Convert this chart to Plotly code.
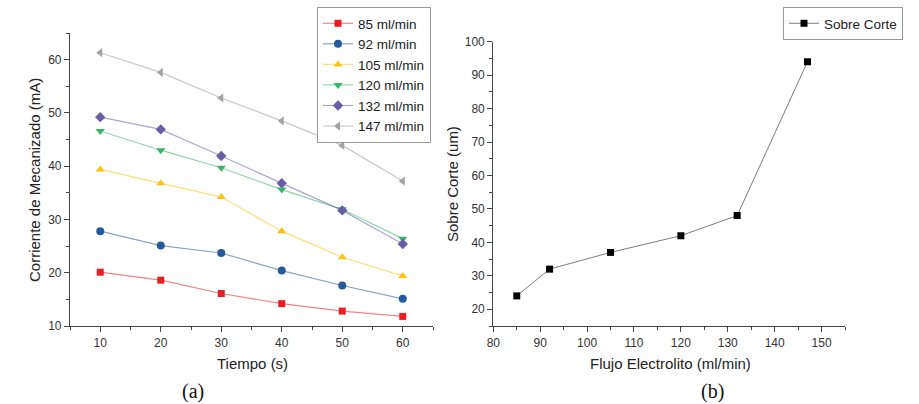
import plotly.graph_objects as go

tiempo = [10, 20, 30, 40, 50, 60]
series_names = ["85 ml/min", "92 ml/min", "105 ml/min", "120 ml/min", "132 ml/min", "147 ml/min"]
s85 = [20.1, 18.6, 16.1, 14.2, 12.8, 11.8]
s92 = [27.8, 25.1, 23.7, 20.4, 17.6, 15.1]
s105 = [39.4, 36.8, 34.2, 27.8, 22.9, 19.4]
s120 = [46.6, 43.0, 39.7, 35.6, 31.9, 26.4]
s132 = [49.2, 46.9, 41.9, 36.8, 31.7, 25.4]
s147 = [61.3, 57.6, 52.8, 48.5, 43.9, 37.2]

flujo = [85, 92, 105, 120, 132, 147]
sobre_corte = [24, 32, 37, 42, 48, 94]

colors = ["#ea1c24", "#245a9c", "#ffc20e", "#39b36a", "#675ea6", "#a3a3a3"]
line_colors = ["rgba(234,28,36,0.55)", "rgba(36,90,156,0.55)", "rgba(255,194,14,0.55)",
               "rgba(57,179,106,0.55)", "rgba(103,94,166,0.55)", "rgba(163,163,163,0.6)"]
symbols = ["square", "circle", "triangle-up", "triangle-down", "diamond", "triangle-left"]
all_series = [s85, s92, s105, s120, s132, s147]

W, H = 919, 404

fig = go.Figure()
for name, ys, c, lc, sym in zip(series_names, all_series, colors, line_colors, symbols):
    fig.add_trace(go.Scatter(
        x=tiempo, y=ys, name=name, mode="lines+markers",
        line=dict(color=lc, width=1.2),
        marker=dict(symbol=sym, color=c, size=8 if sym != "square" else 7),
        xaxis="x", yaxis="y", legend="legend"))

fig.add_trace(go.Scatter(
    x=flujo, y=sobre_corte, name="Sobre Corte", mode="lines+markers",
    line=dict(color="rgba(90,90,90,0.8)", width=1),
    marker=dict(symbol="square", color="black", size=7),
    xaxis="x2", yaxis="y2", legend="legend2"))

axis_common = dict(
    showline=True, linecolor="#444", linewidth=1.2, ticks="outside", ticklen=5,
    tickcolor="#444", tickwidth=1.2, showgrid=False, zeroline=False, automargin=False,
    tickfont=dict(family="Liberation Sans, Arial", size=12, color="#333"),
)

title_font = dict(family="Liberation Sans, Arial", size=15, color="#222")

def px_x(v):
    return v / W

def px_y(v):
    return 1 - v / H

def label(text, x, y, font, angle=0):
    return dict(text=text, x=px_x(x), y=px_y(y), xref="paper", yref="paper",
                xanchor="center", yanchor="middle", showarrow=False,
                textangle=angle, font=font)

serif = dict(family="Liberation Serif, Times New Roman", size=20, color="#111")

fig.update_layout(
    width=W, height=H,
    margin=dict(l=0, r=0, t=0, b=0),
    paper_bgcolor="white", plot_bgcolor="white",
    showlegend=True,
    xaxis=dict(domain=[px_x(70), px_x(433)], range=[5, 65], tickvals=[10, 20, 30, 40, 50, 60],
               minor=dict(ticks="outside", ticklen=3, tickvals=[5, 15, 25, 35, 45, 55, 65], tickcolor="#444"),
               anchor="y", **axis_common),
    yaxis=dict(domain=[px_y(326), px_y(33)], range=[10, 65], tickvals=[10, 20, 30, 40, 50, 60],
               minor=dict(ticks="outside", ticklen=3, tickvals=[15, 25, 35, 45, 55, 65], tickcolor="#444"),
               anchor="x", **axis_common),
    xaxis2=dict(domain=[px_x(493.3), px_x(845)], range=[80, 155], tickvals=[80, 90, 100, 110, 120, 130, 140, 150],
                minor=dict(ticks="outside", ticklen=3, tickvals=[85, 95, 105, 115, 125, 135, 145, 155], tickcolor="#444"),
                anchor="y2", **axis_common),
    yaxis2=dict(domain=[px_y(326), px_y(41.7)], range=[15, 100], tickvals=[20, 30, 40, 50, 60, 70, 80, 90, 100],
                minor=dict(ticks="outside", ticklen=3, tickvals=[15, 25, 35, 45, 55, 65, 75, 85, 95], tickcolor="#444"),
                anchor="x2", **axis_common),
    legend=dict(x=px_x(317), y=px_y(7), xanchor="left", yanchor="top",
                bgcolor="white", bordercolor="#999", borderwidth=1,
                font=dict(family="Liberation Sans, Arial", size=13.5, color="#222"),
                itemwidth=30, tracegroupgap=0),
    legend2=dict(x=px_x(783), y=px_y(7), xanchor="left", yanchor="top",
                 bgcolor="white", bordercolor="#999", borderwidth=1,
                 font=dict(family="Liberation Sans, Arial", size=13.5, color="#222"),
                 itemwidth=30),
    annotations=[
        label("Tiempo (s)", 252, 363, title_font),
        label("Corriente de Mecanizado (mA)", 35, 180, title_font, -90),
        label("Flujo Electrolito (ml/min)", 670, 363, title_font),
        label("Sobre Corte (um)", 453, 184, title_font, -90),
        label("(a)", 193, 391, serif),
        label("(b)", 712, 391, serif),
    ],
)

fig.write_html("out.html", config={"displayModeBar": False},
               post_script="document.body.style.margin='0px';document.body.style.overflow='hidden';")
